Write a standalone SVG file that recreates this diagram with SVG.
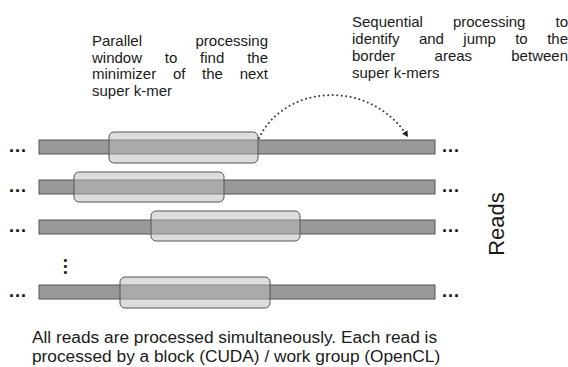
<svg xmlns="http://www.w3.org/2000/svg" width="568" height="367" viewBox="0 0 568 367">
<style>
.t{font-family:"Liberation Sans",Arial,sans-serif;font-size:15px;fill:#1a1a1a}
.b{font-family:"Liberation Sans",Arial,sans-serif;font-size:17.3px;fill:#1a1a1a}
.dots{font-family:"Liberation Sans",Arial,sans-serif;font-size:18px;font-weight:bold;fill:#111;letter-spacing:1px}
.bar{fill:#999;stroke:#555;stroke-width:1}
.win{fill:#bbb;fill-opacity:0.5;stroke:#555;stroke-width:1}
.arc{fill:none;stroke:#333;stroke-width:2;stroke-linecap:round;stroke-dasharray:0 4.5}
</style>
<defs>
<marker id="ah" markerWidth="8" markerHeight="8" refX="6" refY="4" orient="auto" markerUnits="userSpaceOnUse">
<path d="M0,0.8 L6,4 L0,7.2 Z" fill="#222"/>
</marker>
</defs>
<g id="label-parallel">
<text class="t" x="92" y="46">Parallel</text>
<text class="t" x="268" y="46" text-anchor="end">processing</text>
<text class="t" x="92" y="62.5">window</text>
<text class="t" x="164.8" y="62.5">to</text>
<text class="t" x="200.1" y="62.5">find</text>
<text class="t" x="268" y="62.5" text-anchor="end">the</text>
<text class="t" x="92" y="79">minimizer</text>
<text class="t" x="172.9" y="79">of</text>
<text class="t" x="202.1" y="79">the</text>
<text class="t" x="268" y="79" text-anchor="end">next</text>
<text class="t" x="92" y="95.5">super k-mer</text>
</g>
<g id="label-sequential">
<text class="t" x="352" y="27">Sequential</text>
<text class="t" x="452.9" y="27">processing</text>
<text class="t" x="568" y="27" text-anchor="end">to</text>
<text class="t" x="352" y="44">identify</text>
<text class="t" x="418.9" y="44">and</text>
<text class="t" x="463.3" y="44">jump</text>
<text class="t" x="515.2" y="44">to</text>
<text class="t" x="568" y="44" text-anchor="end">the</text>
<text class="t" x="352" y="61">border</text>
<text class="t" x="434.6" y="61">areas</text>
<text class="t" x="568" y="61" text-anchor="end">between</text>
<text class="t" x="352" y="78">super k-mers</text>
</g>
<g id="read-1">
<text class="dots" x="9" y="152">...</text>
<rect class="bar" x="39" y="140" width="396" height="14"/>
<rect class="win" x="109" y="132" width="149" height="31" rx="5"/>
<text class="dots" x="442" y="152">...</text>
</g>
<g id="read-2">
<text class="dots" x="9" y="192">...</text>
<rect class="bar" x="39" y="180" width="396" height="14"/>
<rect class="win" x="74" y="172" width="150" height="30" rx="5"/>
<text class="dots" x="442" y="192">...</text>
</g>
<g id="read-3">
<text class="dots" x="9" y="232">...</text>
<rect class="bar" x="39" y="220" width="396" height="14"/>
<rect class="win" x="151" y="211" width="149" height="30" rx="5"/>
<text class="dots" x="442" y="232">...</text>
</g>
<g id="vdots">
<text class="dots" x="258" y="-64" transform="rotate(90)">...</text>
</g>
<g id="read-4">
<text class="dots" x="9" y="297">...</text>
<rect class="bar" x="39" y="285" width="396" height="14"/>
<rect class="win" x="120" y="277" width="150" height="31" rx="5"/>
<text class="dots" x="442" y="297">...</text>
</g>
<g id="reads-label">
<text class="t" style="font-size:22px" x="0" y="0" text-anchor="middle" transform="translate(504,224) rotate(-90)">Reads</text>
</g>
<g id="connectors">
<path class="arc" d="M259,138 C285,84 370,78 408,137" marker-end="url(#ah)"/>
</g>
<g id="caption">
<text class="b" x="32" y="343">All reads are processed simultaneously. Each read is</text>
<text class="b" x="32" y="362">processed by a block (CUDA) / work group (OpenCL)</text>
</g>
</svg>
